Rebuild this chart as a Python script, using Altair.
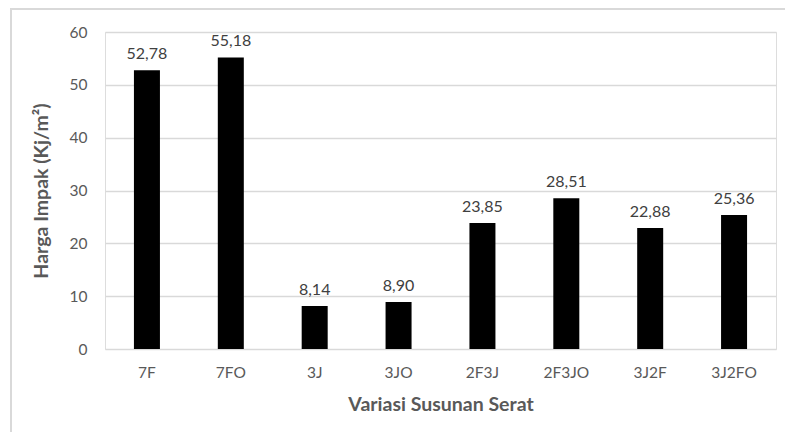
import altair as alt
import pandas as pd

categories = ["7F", "7FO", "3J", "3JO", "2F3J", "2F3JO", "3J2F", "3J2FO"]
values = [52.78, 55.18, 8.14, 8.90, 23.85, 28.51, 22.88, 25.36]
y_ticks = [0, 10, 20, 30, 40, 50, 60]

df = pd.DataFrame({"cat": categories, "val": values})
df["lbl"] = [f"{v:.2f}".replace(".", ",") for v in values]

W, H = 671, 317
FONT = "Lato"
GRAY = "#595959"

x = alt.X("cat:N", sort=categories, scale=alt.Scale(paddingInner=0.69, paddingOuter=0.345),
          axis=alt.Axis(title="Variasi Susunan Serat", labelAngle=0, ticks=False, domain=False,
                        labelPadding=16, titlePadding=15, labelFontSize=15.5, titleFontSize=19.5,
                        labelColor=GRAY, titleColor=GRAY, titleFontWeight="bold",
                        labelFont=FONT, titleFont=FONT))
y = alt.Y("val:Q", scale=alt.Scale(domain=[0, 60], nice=False),
          axis=alt.Axis(title="Harga Impak (Kj/m²)", values=y_ticks, ticks=False, domain=False,
                        labelPadding=18, titlePadding=18, labelFontSize=15.5, titleFontSize=19.5,
                        labelColor=GRAY, titleColor=GRAY, titleFontWeight="bold",
                        gridColor="#d9d9d9", gridWidth=1.3,
                        labelFont=FONT, titleFont=FONT))

base = alt.Chart(df)
bars = base.mark_bar(color="black").encode(x=x, y=y)
labels = base.mark_text(baseline="bottom", dy=-8, fontSize=16, font=FONT, color="#404040").encode(
    x=alt.X("cat:N", sort=categories), y="val:Q", text="lbl:N")

border = base.mark_rect(filled=False, stroke="#d9d9d9", strokeWidth=1.3, clip=False).encode(
    x=alt.value(11 - 105), x2=alt.value(900), y=alt.value(9 - 32), y2=alt.value(600))

chart = alt.layer(border, bars, labels).properties(
    width=W, height=H,
    autosize=alt.AutoSizeParams(type="none"),
    padding={"left": 105, "top": 32, "right": 9, "bottom": 83},
).configure_view(stroke=None).configure(background="white")

chart.save("out.html", embed_options={"renderer": "svg", "actions": False})
